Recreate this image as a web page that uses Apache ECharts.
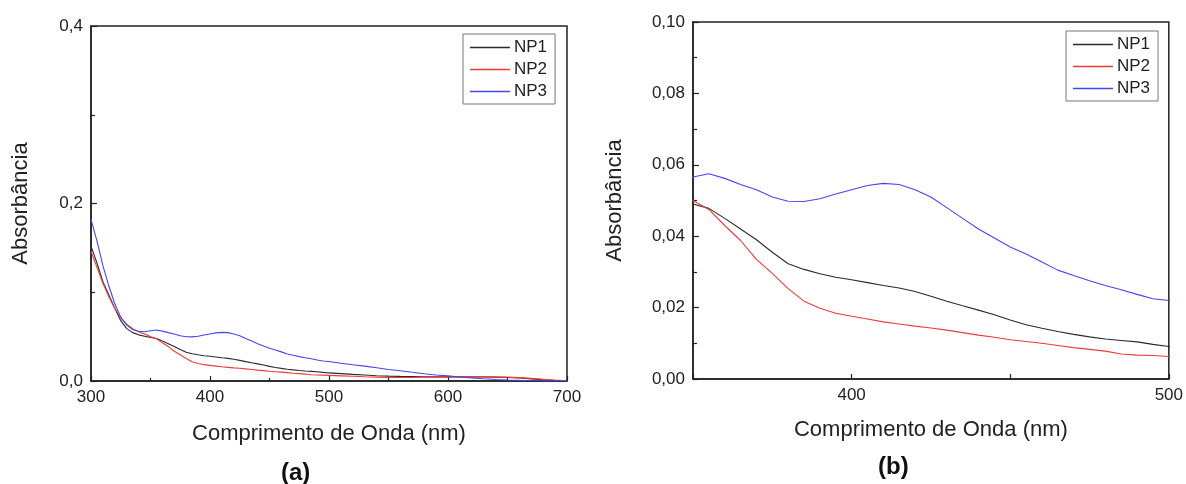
<!DOCTYPE html>
<html>
<head>
<meta charset="utf-8">
<script src="https://cdn.jsdelivr.net/npm/echarts@6/dist/echarts.min.js"></script>
<style>
html,body{margin:0;padding:0;background:#fff;}
#c{width:1186px;height:484px;}
</style>
</head>
<body>
<div id="c"></div>
<script>
// Wavelengths (nm)
const wavelengths = [300,305,310,315,320,325,330,335,340,345,
  350,355,360,365,370,375,380,385,390,395,400,405,410,415,420,425,430,435,440,445,450,455,460,465,470,475,480,485,490,495,500,
  510,520,530,540,550,560,570,580,590,600,610,620,630,640,650,660,670,680,690,700];
// Absorbance values
const np1 = [0.152,0.133,0.112,0.097,0.082,0.068,0.059,0.0545,0.052,0.0505,
  0.0490,0.0478,0.0450,0.0420,0.0390,0.0355,0.0323,0.0307,0.0295,0.0285,0.0278,0.0270,0.0262,0.0255,0.0245,0.0232,0.0218,0.0205,0.0193,0.0180,0.0165,0.0152,0.0142,0.0133,0.0125,0.0118,0.0112,0.0108,0.0104,0.0097,0.0091,
  0.0083,0.0075,0.0068,0.0060,0.0055,0.0052,0.0050,0.0048,0.0047,0.0047,0.0046,0.0046,0.0045,0.0043,0.0040,0.0033,0.0024,0.0014,0.0006,0.0002];
const np2 = [0.146,0.128,0.110,0.095,0.082,0.071,0.064,0.059,0.0555,0.053,
  0.0500,0.0475,0.0430,0.0388,0.0335,0.0296,0.0253,0.0218,0.0198,0.0184,0.0176,0.0168,0.0160,0.0154,0.0148,0.0143,0.0137,0.0130,0.0123,0.0117,0.0110,0.0105,0.0100,0.0094,0.0088,0.0083,0.0078,0.0070,0.0067,0.0066,0.0063,
  0.0058,0.0053,0.0048,0.0044,0.0040,0.0039,0.0040,0.0042,0.0044,0.0046,0.0048,0.0049,0.0049,0.0047,0.0044,0.0038,0.0030,0.0020,0.0010,0.0003];
const np3 = [0.182,0.158,0.130,0.107,0.087,0.072,0.063,0.058,0.056,0.0555,
  0.0566,0.0575,0.0562,0.0545,0.0530,0.0510,0.0498,0.0497,0.0505,0.0518,0.0530,0.0542,0.0548,0.0545,0.0530,0.0510,0.0480,0.0450,0.0420,0.0395,0.0370,0.0350,0.0328,0.0305,0.0290,0.0275,0.0262,0.0250,0.0237,0.0225,0.0220,
  0.0200,0.0183,0.0168,0.0150,0.0130,0.0115,0.0098,0.0082,0.0068,0.0058,0.0045,0.0035,0.0025,0.0017,0.0012,0.0008,0.0005,0.0003,0.0002,0.0001];
const seriesNames = ['NP1','NP2','NP3'];
const xTicksA = [300,400,500,600,700];
const xTicksB = [400,500];

const colors = ['#2b2b2b','#f03a3a','#4646f5'];
const FONT = 'Liberation Sans, Arial, sans-serif';
const TXT = '#222';

function pairs(arr){ return wavelengths.map((w,i)=>[w,arr[i]]); }
const allData = [np1,np2,np3];

function xAxisCfg(gi, min, max, interval, labelTicks, minor, gap){
  return {
    type:'value', gridIndex:gi, min:min, max:max, interval:interval,
    name:'Comprimento de Onda (nm)', nameLocation:'middle', nameGap:gap,
    nameTextStyle:{fontFamily:FONT, fontSize:22, color:TXT},
    axisLine:{show:true, lineStyle:{color:'#222', width:1.5}},
    axisTick:{show:true, inside:true, length:5, lineStyle:{color:'#222', width:1.2}},
    minorTick:{show:minor, splitNumber:2, length:3, lineStyle:{color:'#222', width:1.2}},
    splitLine:{show:false},
    axisLabel:{fontFamily:FONT, fontSize:17, color:TXT, margin:8,
      formatter:v=> labelTicks.indexOf(v)>=0 ? String(v) : ''}
  };
}
function yAxisCfg(gi, max, interval, dec, gap){
  return {
    type:'value', gridIndex:gi, min:0, max:max, interval:interval,
    name:'Absorbância', nameLocation:'middle', nameGap:gap,
    nameTextStyle:{fontFamily:FONT, fontSize:22, color:TXT},
    axisLine:{show:true, lineStyle:{color:'#222', width:1.5}},
    axisTick:{show:true, inside:true, length:6, lineStyle:{color:'#222', width:1.2}},
    minorTick:{show:true, splitNumber:2, length:4, lineStyle:{color:'#222', width:1.2}},
    splitLine:{show:false},
    axisLabel:{fontFamily:FONT, fontSize:17, color:TXT, margin:8,
      formatter:v=> v.toFixed(dec).replace('.',',')}
  };
}

const series = [];
[0,1].forEach(gi=>{
  seriesNames.forEach((n,k)=>{
    series.push({
      name:n, type:'line', xAxisIndex:gi, yAxisIndex:gi,
      data:pairs(allData[k]), symbol:'none', clip:true,
      lineStyle:{color:colors[k], width:1.1}, itemStyle:{color:colors[k]},
      animation:false
    });
  });
});

const lineIcon = 'path://M0,0L0,0.01M0,6.2L40,6.2L40,7.8L0,7.8ZM40,14L40,14.01';
function legendCfg(left, top){
  return {
    data:seriesNames.map(n=>({name:n, icon:lineIcon})),
    orient:'vertical', left:left, top:top,
    itemWidth:40, itemHeight:14, itemGap:5,
    padding:[5,8,4,7], borderColor:'#777', borderWidth:1, borderRadius:0,
    backgroundColor:'#fff', selectedMode:false,
    textStyle:{fontFamily:FONT, fontSize:17, color:TXT, padding:[0,0,0,-1]}
  };
}

const chart = echarts.init(document.getElementById('c'), null, {renderer:'canvas'});
chart.setOption({
  backgroundColor:'#fff',
  animation:false,
  grid:[
    {left:91, top:26, width:476, height:355, show:true, borderColor:'#222', borderWidth:1.5, containLabel:false},
    {left:693, top:22, width:478, height:357, show:true, borderColor:'#222', borderWidth:1.5, containLabel:false}
  ],
  xAxis:[ xAxisCfg(0,300,700,100,xTicksA,true,42), xAxisCfg(1,350,500,50,xTicksB,false,40) ],
  yAxis:[ yAxisCfg(0,0.4,0.2,1,59), yAxisCfg(1,0.1,0.02,2,67) ],
  legend:[ legendCfg(463,34), legendCfg(1066,31) ],
  graphic:[
    {type:'text', left:281, top:461, style:{text:'(a)', font:'bold 24px Liberation Sans, Arial, sans-serif', fill:'#111'}},
    {type:'text', left:878, top:455, style:{text:'(b)', font:'bold 24px Liberation Sans, Arial, sans-serif', fill:'#111'}}
  ],
  series:series
});
</script>
</body>
</html>
